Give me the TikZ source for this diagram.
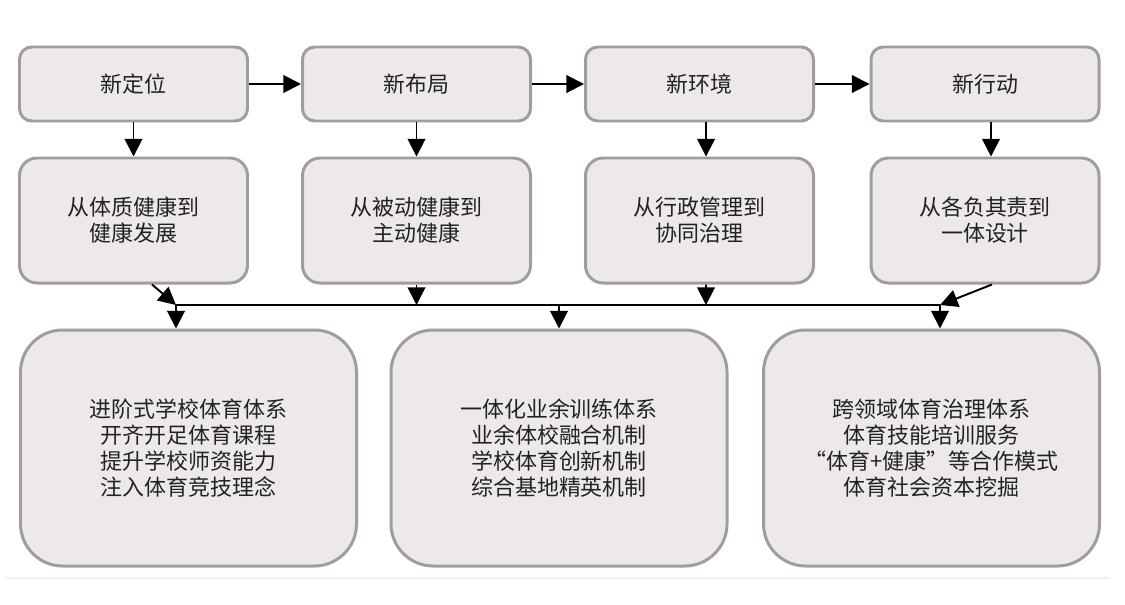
\documentclass[tikz,border=0pt]{standalone}
\usepackage{fontspec}
\usepackage{tikz}
\usetikzlibrary{arrows.meta}
\newfontfamily\cjk{Noto Sans CJK SC}
\definecolor{boxFill}{HTML}{ECE9E8}
\definecolor{boxLine}{HTML}{A19D9C}
\definecolor{textDark}{HTML}{222222}

\begin{document}
\begin{tikzpicture}[
  every node/.style={font=\cjk\fontsize{12.5}{14.8}\selectfont, text=textDark},
  box/.style={draw=boxLine, line width=1.7pt, fill=boxFill, align=center},
  topbox/.style={box, rounded corners=7pt, minimum width=4.56cm, minimum height=1.48cm},
  midbox/.style={box, rounded corners=10pt, minimum width=4.56cm, minimum height=2.5cm},
  lowbox/.style={box, rounded corners=24pt, minimum width=6.72cm, minimum height=4.72cm},
  link/.style={-{Triangle[length=10pt,width=10pt]}, line width=1.1pt, black},
  bus/.style={line width=1.1pt, black},
]
\useasboundingbox (0,0) rectangle (22.5,12.08);

% Top row
\node[topbox] (pos) at (2.67, 10.4) {新定位};
\node[topbox] (lay) at (8.33, 10.4) {新布局};
\node[topbox] (env) at (13.99, 10.4) {新环境};
\node[topbox] (act) at (19.70, 10.4) {新行动};

% Middle row
\node[midbox] (health) at (2.67, 7.67) {从体质健康到\\健康发展};
\node[midbox] (active) at (8.33, 7.67) {从被动健康到\\主动健康};
\node[midbox] (govern) at (13.99, 7.67) {从行政管理到\\协同治理};
\node[midbox] (design) at (19.70, 7.67) {从各负其责到\\一体设计};

% Bottom row
\node[lowbox] (school) at (3.77, 3.12)
  {进阶式学校体育体系\\开齐开足体育课程\\提升学校师资能力\\注入体育竞技理念};
\node[lowbox] (train) at (11.18, 3.12)
  {一体化业余训练体系\\业余体校融合机制\\学校体育创新机制\\综合基地精英机制};
\node[lowbox] (cross) at (18.63, 3.12)
  {跨领域体育治理体系\\体育技能培训服务\\“体育+健康”等合作模式\\体育社会资本挖掘};

% Bus coordinates
\coordinate (j1) at (3.52, 5.98);
\coordinate (j2) at (8.33, 5.98);
\coordinate (j3) at (14.12, 5.98);
\coordinate (j4) at (18.80, 5.98);
\coordinate (jm) at (11.18, 5.98);

% Arrows along the top
\draw[link] (pos) -- (lay);
\draw[link] (lay) -- (env);
\draw[link] (env) -- (act);

% Arrows down to the middle row
\draw[link] (pos.south) -- (health.north);
\draw[link] (lay.south) -- (active.north);
\draw[link] ([xshift=0.13cm]env.south) -- ([xshift=0.13cm]govern.north);
\draw[link] ([xshift=0.12cm]act.south) -- ([xshift=0.12cm]design.north);

% Into the bus
\draw[bus] (j1) -- (j4);
\draw[link] ([xshift=0.37cm]health.south) -- (j1);
\draw[link] (active.south) -- (j2);
\draw[link] ([xshift=0.13cm]govern.south) -- (j3);
\draw[link] ([xshift=0.14cm]design.south) -- (j4);

% Out of the bus
\draw[link] (j1) -- (j1 |- school.north);
\draw[link] (jm) -- (train.north);
\draw[link] (j4) -- (j4 |- cross.north);

% Faint rule at the foot
\draw[gray!12, line width=0.6pt] (0.1, 0.52) -- (22.2, 0.52);

\end{tikzpicture}
\end{document}
